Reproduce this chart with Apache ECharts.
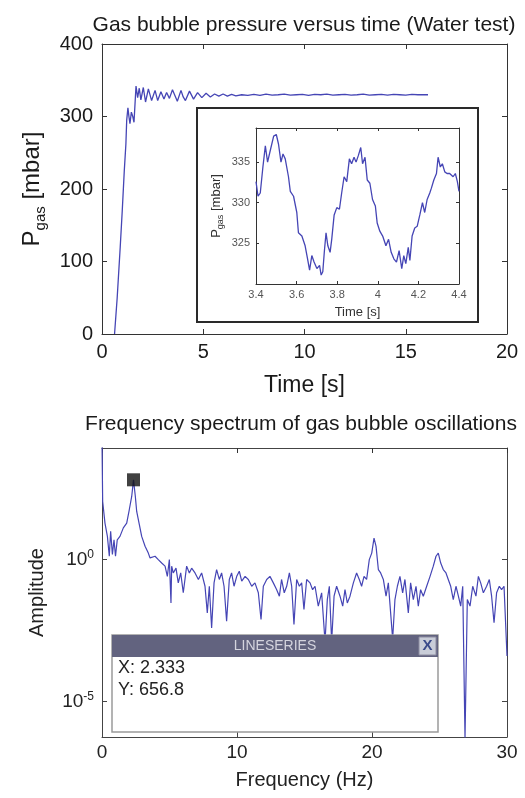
<!DOCTYPE html>
<html><head><meta charset="utf-8">
<script src="https://cdn.jsdelivr.net/npm/echarts@6/dist/echarts.min.js"></script>
<style>html,body{margin:0;padding:0;background:#fff}#c{width:525px;height:798px}</style>
</head><body><div id="c"></div>
<script>
// ---- Main time series (s, mbar) ----
const mainTime = [0.62,0.75,0.90,1.00,1.10,1.18,1.22,1.28,1.33,1.38,1.45,1.52,1.58,1.68,1.76,1.84,1.92,2.04,2.15,2.29,2.45,2.62,2.75,2.91,3.06,3.19,3.33,3.48,3.60,3.72,3.90,4.01,4.12,4.32,4.52,4.72,4.93,5.14,5.35,5.56,5.77,5.98,6.19,6.40,6.61,6.90,7.20,7.50,7.80,8.10,8.40,8.70,9.00,9.30,9.60,9.90,10.2,10.5,10.8,11.1,11.4,11.7,12.0,12.3,12.6,12.9,13.2,13.5,13.8,14.1,14.4,14.7,15.0,15.3,15.6,15.9,16.1];
const mainPressure = [0,50,120,170,225,262,295,312,300,290,306,300,292,342,326,339,323,340,320,338,322,336,322,334,324,333,325,337,329,321,336,327,322,335,324,333,326,332,327,331,328,331,328,330.5,328.5,330,329,330.5,329,331,329.5,330,331,329.5,330,330.5,329,330.5,330,331,329.5,330,330.5,329.5,330,331,329.5,330,330.5,329.5,330.5,330,329.5,330.5,330,330,330];
// ---- Inset (zoom 3.4 - 4.4 s) ----
const insetTime = [3.400,3.410,3.421,3.434,3.446,3.457,3.470,3.487,3.500,3.511,3.523,3.533,3.544,3.552,3.560,3.569,3.585,3.601,3.609,3.626,3.642,3.654,3.664,3.675,3.686,3.700,3.713,3.721,3.729,3.737,3.745,3.754,3.765,3.773,3.785,3.798,3.811,3.822,3.834,3.847,3.860,3.871,3.883,3.893,3.904,3.916,3.925,3.937,3.948,3.961,3.974,3.988,3.997,4.010,4.024,4.040,4.053,4.066,4.079,4.092,4.105,4.118,4.128,4.138,4.150,4.158,4.169,4.182,4.194,4.207,4.220,4.231,4.243,4.256,4.264,4.276,4.289,4.297,4.308,4.318,4.330,4.341,4.354,4.371,4.382,4.392,4.400];
const insetPressure = [332.6,330.8,331.2,334.4,337.0,335.0,336.4,338.2,338.4,337.2,335.0,336.0,335.4,335.6,333.2,331.4,330.8,328.8,326.3,325.9,324.7,323.1,321.7,323.5,322.7,321.9,322.3,321.1,321.5,324.1,326.3,324.7,323.9,325.5,328.5,329.4,329.2,331.2,333.2,332.6,335.4,334.8,335.6,335.0,335.8,336.8,334.8,335.6,332.8,332.4,330.4,329.6,327.5,326.5,325.9,324.7,325.5,323.9,323.1,322.7,324.1,321.9,323.5,322.5,324.5,322.9,325.9,326.9,327.1,328.5,330.0,328.8,330.4,331.2,331.8,332.8,333.6,335.6,334.4,334.8,333.8,333.6,333.6,333.2,333.6,332.6,331.4];
// ---- Spectrum (Hz, log10 amplitude) ----
const specFreq = [0,0.05,0.22,0.40,0.54,0.64,0.77,0.89,1.00,1.13,1.33,1.58,1.83,2.02,2.20,2.333,2.47,2.57,2.77,2.94,3.19,3.43,3.56,3.68,3.93,4.17,4.42,4.67,4.84,4.99,5.11,5.16,5.28,5.48,5.65,5.83,6.02,6.27,6.47,6.64,6.89,7.14,7.38,7.63,7.80,7.95,8.12,8.30,8.49,8.69,8.86,9.04,9.23,9.43,9.60,9.78,9.98,10.17,10.35,10.60,10.84,11.09,11.33,11.58,11.78,11.95,12.20,12.44,12.69,12.94,13.14,13.30,13.50,13.68,13.88,14.05,14.22,14.42,14.62,14.79,14.96,15.16,15.41,15.60,15.78,16.02,16.27,16.52,16.69,16.84,17.01,17.19,17.38,17.63,17.83,18.00,18.17,18.37,18.62,18.86,19.06,19.23,19.41,19.60,19.80,19.98,20.15,20.30,20.47,20.64,20.84,21.04,21.21,21.38,21.53,21.70,21.88,22.07,22.27,22.44,22.69,22.86,23.06,23.26,23.43,23.60,23.80,24.05,24.30,24.54,24.74,24.91,25.09,25.28,25.48,25.65,25.83,26.02,26.22,26.40,26.57,26.72,26.89,27.06,27.26,27.46,27.70,27.88,28.05,28.25,28.49,28.69,28.86,29.04,29.23,29.43,29.60,29.78,29.90,30.0];
const specLog10Amp = [4.2,2.05,1.29,0.82,0.12,1.0,0.18,0.70,0.12,0.70,0.82,1.12,1.29,1.76,2.23,2.817,2.23,1.70,1.23,0.82,0.47,0.23,0.06,0.12,0.12,0,-0.12,-0.23,-0.59,0,-1.53,-0.23,-0.47,-0.30,-0.82,-0.47,-1.17,-0.23,-0.47,-0.30,-0.47,-0.70,-0.47,-0.94,-1.88,-0.94,-2.41,-0.82,-0.35,-0.70,-0.47,-0.94,-2.17,-0.70,-0.47,-0.94,-0.59,-0.41,-0.76,-0.59,-0.70,-0.94,-0.82,-1.17,-2.11,-0.94,-0.70,-0.59,-0.82,-1.06,-1.29,-0.70,-1.17,-0.94,-0.47,-0.94,-2.29,-0.70,-0.94,-0.82,-1.76,-0.70,-0.82,-1.06,-0.94,-1.64,-1.17,-2.9,-1.41,-0.94,-2.9,-1.29,-0.94,-1.29,-1.64,-1.06,-1.53,-1.29,-0.82,-0.47,-0.70,-0.94,-0.59,-0.70,0,0.23,0.76,0.47,-0.35,-0.47,-0.70,-1.29,-0.82,-1.88,-2.8,-1.41,-0.94,-0.59,-1.17,-0.70,-1.88,-0.82,-1.41,-0.94,-1.64,-1.06,-1.29,-0.94,-0.59,-0.23,0.12,0.23,-0.12,-0.35,-0.47,-0.70,-0.94,-1.41,-0.94,-1.29,-1.64,-0.94,-6.3,-1.41,-1.64,-0.94,-1.29,-0.59,-0.82,-1.17,-0.94,-0.70,-1.29,-2.23,-1.17,-0.94,-1.06,-0.94,-1.0,-3.4];
// ---- Data tip ----
const markerFreq = 2.333;
const markerAmp = 656.8;
// ---- Tick labels ----
const insetYTicks = [325,330,335];
const specYTicks = [1e-5, 1];

const FONT = 'Liberation Sans, Arial, sans-serif';
const LINE = '#4545b5';
const AX = '#333';

const mainData = mainTime.map((t,i)=>[t, mainPressure[i]]);
const insetData = insetTime.map((t,i)=>[t, insetPressure[i]]);
const specData = specFreq.map((f,i)=>[f, Math.pow(10, specLog10Amp[i])]);

function mirrorX(grid, min, max, interval, extra) {
  return Object.assign({gridIndex:grid, type:'value', position:'top', min, max, interval,
    axisLine:{show:true, onZero:false, lineStyle:{color:AX, width:1}}, axisTick:{show:true, inside:true, length:5, lineStyle:{color:AX}},
    axisLabel:{show:false}, splitLine:{show:false}}, extra||{});
}
function mirrorY(grid, min, max, interval, extra) {
  return Object.assign({gridIndex:grid, type:'value', position:'right', min, max, interval,
    axisLine:{show:true, onZero:false, lineStyle:{color:AX, width:1}}, axisTick:{show:true, inside:true, length:5, lineStyle:{color:AX}},
    axisLabel:{show:false}, splitLine:{show:false}}, extra||{});
}

const chart = echarts.init(document.getElementById('c'), null, {renderer:'canvas'});
chart.setOption({
  backgroundColor:'#fff',
  animation:false,
  textStyle:{fontFamily:FONT},
  title:[
    {text:'Gas bubble pressure versus time (Water test)', left:299, top:10, textAlign:'center',
     textStyle:{fontFamily:FONT, fontSize:21, fontWeight:'normal', color:'#1a1a1a'}},
    {text:'Frequency spectrum of gas bubble oscillations', left:296, top:409, textAlign:'center',
     textStyle:{fontFamily:FONT, fontSize:21, fontWeight:'normal', color:'#1a1a1a'}}
  ],
  grid:[
    {left:102, top:44, width:405, height:290},
    {left:256, top:128, width:203, height:156},
    {left:102, top:448, width:405, height:289}
  ],
  xAxis:[
    {gridIndex:0, type:'value', min:0, max:20, interval:5,
     axisLine:{onZero:false, lineStyle:{color:AX}}, axisTick:{inside:true, length:5, lineStyle:{color:AX}},
     axisLabel:{fontSize:20, color:'#1a1a1a', margin:8, fontFamily:FONT}, splitLine:{show:false},
     name:'Time [s]', nameLocation:'middle', nameGap:40, nameTextStyle:{fontSize:23, color:'#1a1a1a', fontFamily:FONT}},
    mirrorX(0, 0, 20, 5),
    {gridIndex:1, type:'value', min:3.4, max:4.4, interval:0.2, z:3,
     axisLine:{onZero:false, lineStyle:{color:AX}}, axisTick:{inside:true, length:3, lineStyle:{color:AX}},
     axisLabel:{fontSize:11, color:'#555', margin:5, fontFamily:FONT}, splitLine:{show:false},
     name:'Time [s]', nameLocation:'middle', nameGap:22, nameTextStyle:{fontSize:13, color:'#333', fontFamily:FONT}},
    mirrorX(1, 3.4, 4.4, 0.2, {z:3, axisTick:{show:true, inside:true, length:3, lineStyle:{color:AX}}}),
    {gridIndex:2, type:'value', min:0, max:30, interval:10,
     axisLine:{onZero:false, lineStyle:{color:'#444'}}, axisTick:{inside:true, length:5, lineStyle:{color:'#444'}},
     axisLabel:{fontSize:19, color:'#222', margin:6, fontFamily:FONT}, splitLine:{show:false},
     name:'Frequency (Hz)', nameLocation:'middle', nameGap:33, nameTextStyle:{fontSize:20, color:'#222', fontFamily:FONT}},
    mirrorX(2, 0, 30, 10, {axisLine:{show:true, onZero:false, lineStyle:{color:'#444'}}})
  ],
  yAxis:[
    {gridIndex:0, type:'value', min:0, max:400, interval:100,
     axisLine:{show:true, onZero:false, lineStyle:{color:AX}}, axisTick:{inside:true, length:5, lineStyle:{color:AX}},
     axisLabel:{fontSize:20, color:'#1a1a1a', margin:9, fontFamily:FONT}, splitLine:{show:false},
     name:'{p|P}{s|gas}{p| [mbar]}', nameLocation:'middle', nameGap:52, nameRotate:90,
     nameTextStyle:{color:'#1a1a1a', fontFamily:FONT, rich:{
       p:{fontSize:24, lineHeight:32, fontFamily:FONT, color:'#1a1a1a'},
       s:{fontSize:15, lineHeight:15, verticalAlign:'bottom', fontFamily:FONT, color:'#1a1a1a'}}}},
    mirrorY(0, 0, 400, 100),
    {gridIndex:1, type:'value', min:320, max:339.2, z:3,
     axisLine:{show:true, onZero:false, lineStyle:{color:AX}}, axisTick:{inside:true, length:3, customValues:insetYTicks, lineStyle:{color:AX}},
     axisLabel:{fontSize:11, color:'#555', margin:6, customValues:insetYTicks, fontFamily:FONT}, splitLine:{show:false},
     name:'{p|P}{s|gas}{p| [mbar]}', nameLocation:'middle', nameGap:31, nameRotate:90,
     nameTextStyle:{color:'#333', fontFamily:FONT, rich:{
       p:{fontSize:13, lineHeight:18, fontFamily:FONT, color:'#333'},
       s:{fontSize:9, lineHeight:9, verticalAlign:'bottom', fontFamily:FONT, color:'#333'}}}},
    {gridIndex:1, type:'value', position:'right', min:320, max:339.2, z:3,
     axisLine:{show:true, onZero:false, lineStyle:{color:AX}}, axisTick:{inside:true, length:3, customValues:insetYTicks, lineStyle:{color:AX}},
     axisLabel:{show:false}, splitLine:{show:false}},
    {gridIndex:2, type:'log', logBase:10, min:Math.pow(10,-6.26), max:Math.pow(10,3.94),
     axisLine:{show:true, onZero:false, lineStyle:{color:'#444'}}, axisTick:{inside:true, length:5, customValues:specYTicks, lineStyle:{color:'#444'}},
     axisLabel:{margin:8, customValues:specYTicks, fontFamily:FONT,
       formatter:function(v){ const e = Math.round(Math.log10(v)); return '{b|10}{e|' + e + '}'; },
       rich:{b:{fontSize:19, lineHeight:22, color:'#222', fontFamily:FONT}, e:{fontSize:12, lineHeight:12, verticalAlign:'top', color:'#222', fontFamily:FONT}}},
     splitLine:{show:false}, minorTick:{show:false},
     name:'Amplitude', nameLocation:'middle', nameGap:55, nameRotate:90,
     nameTextStyle:{fontSize:20, color:'#222', fontFamily:FONT}},
    {gridIndex:2, type:'log', logBase:10, position:'right', min:Math.pow(10,-6.26), max:Math.pow(10,3.94),
     axisLine:{show:true, onZero:false, lineStyle:{color:'#444'}}, axisTick:{inside:true, length:5, customValues:specYTicks, lineStyle:{color:'#444'}},
     axisLabel:{show:false}, splitLine:{show:false}}
  ],
  graphic:[
    {type:'rect', z:1, shape:{x:197, y:108, width:281, height:214},
     style:{fill:'#fff', stroke:'#2a2a2a', lineWidth:2}},
    {type:'group', z:100, x:112, y:635, children:[
      {type:'rect', z:100, shape:{x:0, y:0, width:326, height:97}, style:{fill:'#fff', stroke:'#9a9a9a', lineWidth:1.5}},
      {type:'rect', z:101, shape:{x:0, y:0, width:326, height:22}, style:{fill:'#62637f'}},
      {type:'text', z:102, x:163, y:11, style:{text:'LINESERIES', fill:'#d4d4de', font:'14px ' + FONT, textAlign:'center', textVerticalAlign:'middle'}},
      {type:'rect', z:102, shape:{x:307, y:2, width:17, height:18}, style:{fill:'#c9cdd8', stroke:'#8c8ca0', lineWidth:1}},
      {type:'text', z:103, x:315.5, y:11, style:{text:'X', fill:'#3a4a8a', font:'bold 15px ' + FONT, textAlign:'center', textVerticalAlign:'middle'}},
      {type:'text', z:102, x:6, y:33, style:{text:'X: ' + markerFreq, fill:'#222', font:'18px ' + FONT, textVerticalAlign:'middle'}},
      {type:'text', z:102, x:6, y:55, style:{text:'Y: ' + markerAmp, fill:'#222', font:'18px ' + FONT, textVerticalAlign:'middle'}}
    ]}
  ],
  series:[
    {type:'line', xAxisIndex:0, yAxisIndex:0, data:mainData, showSymbol:false, symbol:'none',
     lineStyle:{color:LINE, width:1.3}, z:2},
    {type:'line', xAxisIndex:2, yAxisIndex:2, data:insetData, showSymbol:false, symbol:'none',
     lineStyle:{color:LINE, width:1.3}, z:4},
    {type:'line', xAxisIndex:4, yAxisIndex:4, data:specData, showSymbol:false, symbol:'none', clip:true,
     lineStyle:{color:LINE, width:1.2}, z:2},
    {type:'scatter', xAxisIndex:4, yAxisIndex:4, data:[[markerFreq, markerAmp]], symbol:'rect', symbolSize:13,
     itemStyle:{color:'#111'}, z:5}
  ]
});
</script>
</body></html>
